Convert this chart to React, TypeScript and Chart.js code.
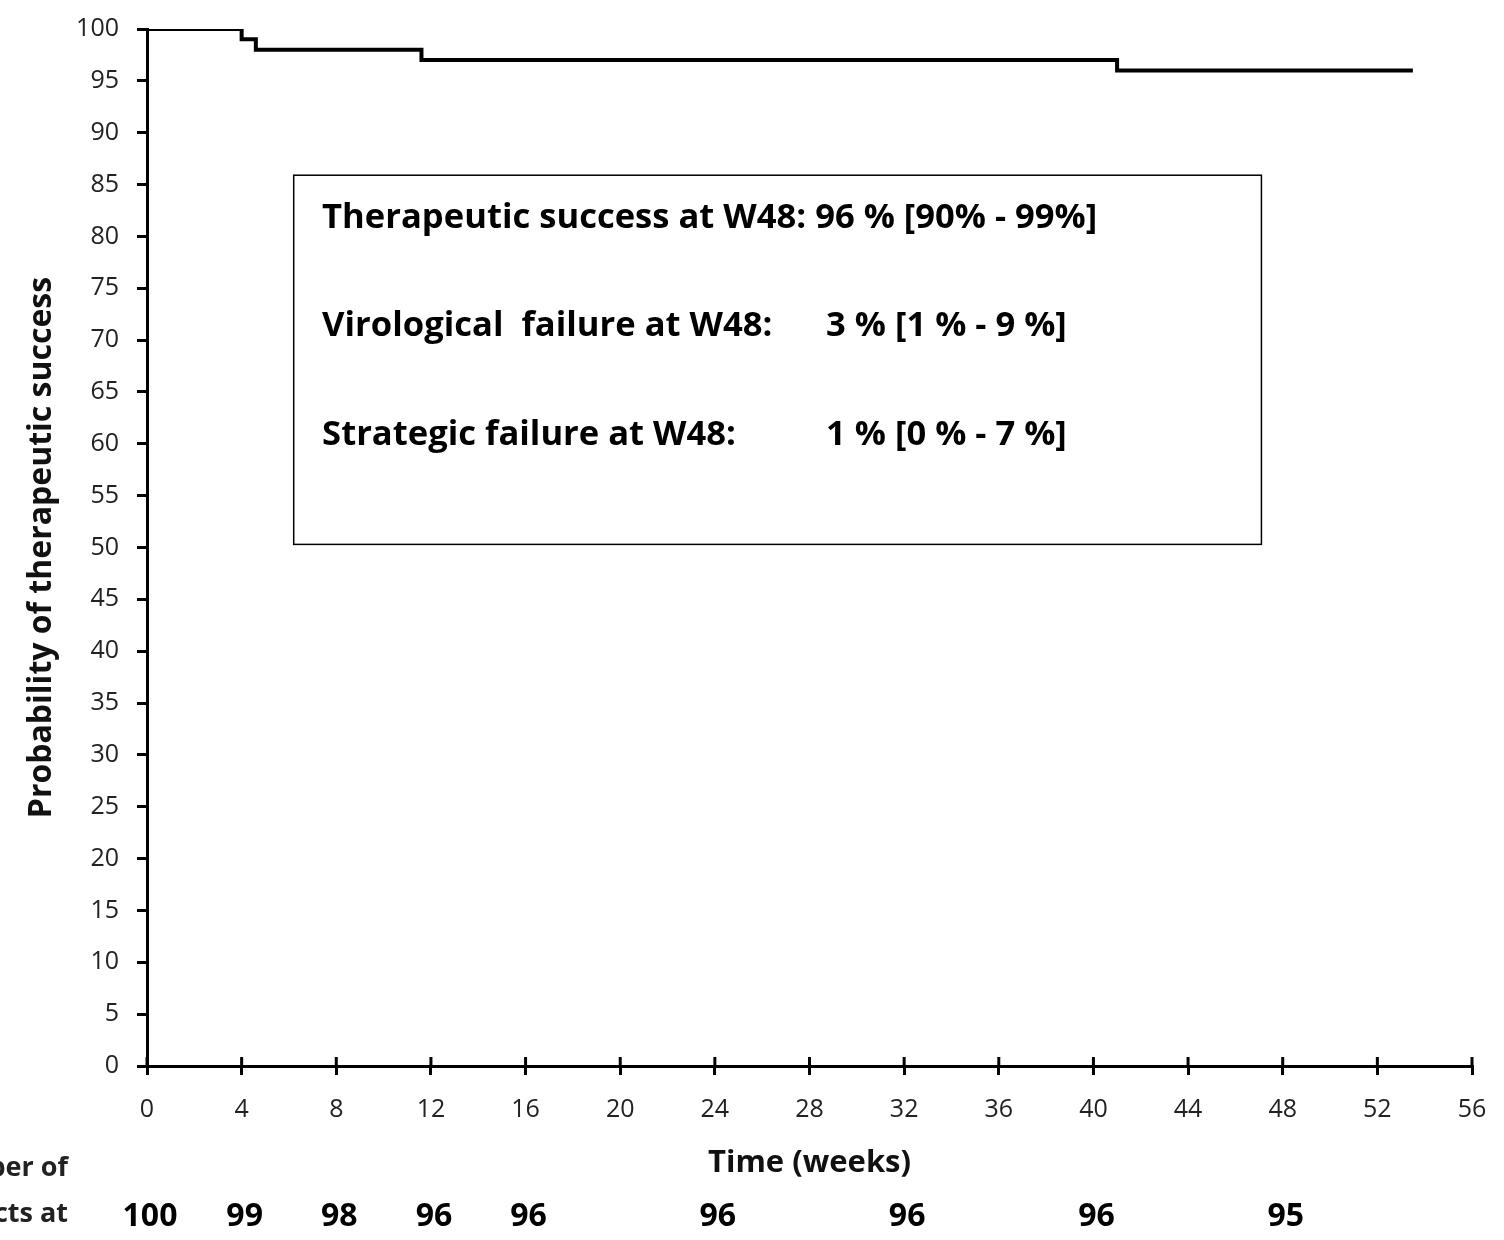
import React, { useEffect, useRef } from "react";
import { Chart, registerables } from "chart.js";

Chart.register(...registerables);

// Kaplan-Meier step curve (weeks, % success)
const stepWeeks = [0, 4, 4.6, 11.6, 41.0, 53.5];
const stepValues = [100, 99, 98, 97, 96, 96];

// Numbers at risk
const riskWeeks = [0, 4, 8, 12, 16, 24, 32, 40, 48];
const riskCounts = [100, 99, 98, 96, 96, 96, 96, 96, 95];
const riskLabelLines = ["Number of", "subjects at"];

// Annotation box text
const boxLabels = [
  "Therapeutic success at W48: 96 % [90% - 99%]",
  "Virological  failure at W48:",
  "Strategic failure at W48:",
];
const boxValues = ["", "3 % [1 % - 9 %]", "1 % [0 % - 7 %]"];

const FONT = "'Open Sans', 'Noto Sans', sans-serif";

const overlayPlugin = {
  id: "overlay",
  afterDatasetsDraw(chart: any) {
    const { ctx, scales } = chart;
    const xs = scales.x;
    const ys = scales.y;
    ctx.save();

    // inward half of x tick marks
    ctx.strokeStyle = "#000";
    ctx.lineWidth = 3;
    const y0 = ys.getPixelForValue(0);
    for (let w = 0; w <= 56; w += 4) {
      const px = xs.getPixelForValue(w);
      ctx.beginPath();
      ctx.moveTo(px, y0);
      ctx.lineTo(px, y0 - 9);
      ctx.stroke();
    }

    // annotation box
    const bx1 = xs.getPixelForValue(6.2);
    const bx2 = xs.getPixelForValue(47.1);
    const by1 = ys.getPixelForValue(85.9);
    const by2 = ys.getPixelForValue(50.3);
    ctx.lineWidth = 1.5;
    ctx.strokeStyle = "#000";
    ctx.strokeRect(bx1, by1, bx2 - bx1, by2 - by1);

    ctx.fillStyle = "#000";
    ctx.font = `bold 34.6px ${FONT}`;
    ctx.textBaseline = "middle";
    ctx.textAlign = "left";
    const rowY = [81.8, 71.3, 60.8];
    const labelX = xs.getPixelForValue(7.4);
    const valueX = xs.getPixelForValue(28.7);
    boxLabels.forEach((t, i) => {
      const py = ys.getPixelForValue(rowY[i]);
      ctx.fillText(t, labelX, py);
      if (boxValues[i]) ctx.fillText(boxValues[i], valueX, py);
    });

    // numbers at risk
    ctx.font = `bold 32px ${FONT}`;
    ctx.textAlign = "center";
    const riskY = 1217;
    riskWeeks.forEach((w, i) => {
      ctx.fillText(String(riskCounts[i]), xs.getPixelForValue(w) + 3, riskY);
    });

    ctx.font = `bold 27px ${FONT}`;
    ctx.fillStyle = "#222";
    ctx.textAlign = "right";
    ctx.fillText(riskLabelLines[0], 68, 1168);
    ctx.fillText(riskLabelLines[1], 68, 1214);
    ctx.restore();
  },
};

export default function App() {
  const ref = useRef<HTMLCanvasElement>(null);
  useEffect(() => {
    if (!ref.current) return;
    const chart = new Chart(ref.current, {
      type: "line",
      data: {
        datasets: [
          {
            data: stepWeeks.map((w, i) => ({ x: w, y: stepValues[i] })),
            borderColor: "#000",
            borderWidth: 4,
            pointRadius: 0,
            stepped: "before",
            fill: false,
          },
        ],
      },
      options: {
        responsive: false,
        animation: false,
        devicePixelRatio: 1,
        layout: { padding: { top: 29, right: 32, left: 0, bottom: 0 } },
        plugins: { legend: { display: false }, tooltip: { enabled: false } },
        scales: {
          x: {
            type: "linear",
            min: 0,
            max: 56,
            afterFit: (s: any) => {
              s.height = 174;
              s.paddingLeft = 0;
              s.paddingRight = 0;
            },
            ticks: {
              stepSize: 4,
              color: "#222",
              font: { family: FONT, size: 25 },
              padding: 20,
              maxRotation: 0,
            },
            border: { display: true, color: "#000", width: 3 },
            grid: {
              drawOnChartArea: false,
              drawTicks: true,
              tickLength: 9,
              color: "#000",
              lineWidth: 3,
            },
            title: {
              display: true,
              text: "Time (weeks)",
              color: "#111",
              font: { family: FONT, size: 31, weight: "bold" },
              padding: { top: 0, bottom: 58 },
            },
          },
          y: {
            type: "linear",
            min: 0,
            max: 100,
            afterFit: (s: any) => {
              s.width = 147;
              s.paddingTop = 0;
              s.paddingBottom = 0;
            },
            ticks: {
              stepSize: 5,
              color: "#222",
              font: { family: FONT, size: 25 },
              padding: 18,
            },
            border: { display: true, color: "#000", width: 3 },
            grid: {
              drawOnChartArea: false,
              drawTicks: true,
              tickLength: 10,
              color: "#000",
              lineWidth: 3,
            },
            title: {
              display: true,
              text: "Probability of therapeutic success",
              color: "#111",
              font: { family: FONT, size: 32, weight: "bold" },
              padding: { top: 23, bottom: 0 },
            },
          },
        },
      },
      plugins: [overlayPlugin],
    });
    return () => chart.destroy();
  }, []);
  return (
    <div style={{ position: "fixed", left: 0, top: 0, width: 1504, height: 1240, background: "#fff" }}>
      <canvas ref={ref} width={1504} height={1240} />
    </div>
  );
}
